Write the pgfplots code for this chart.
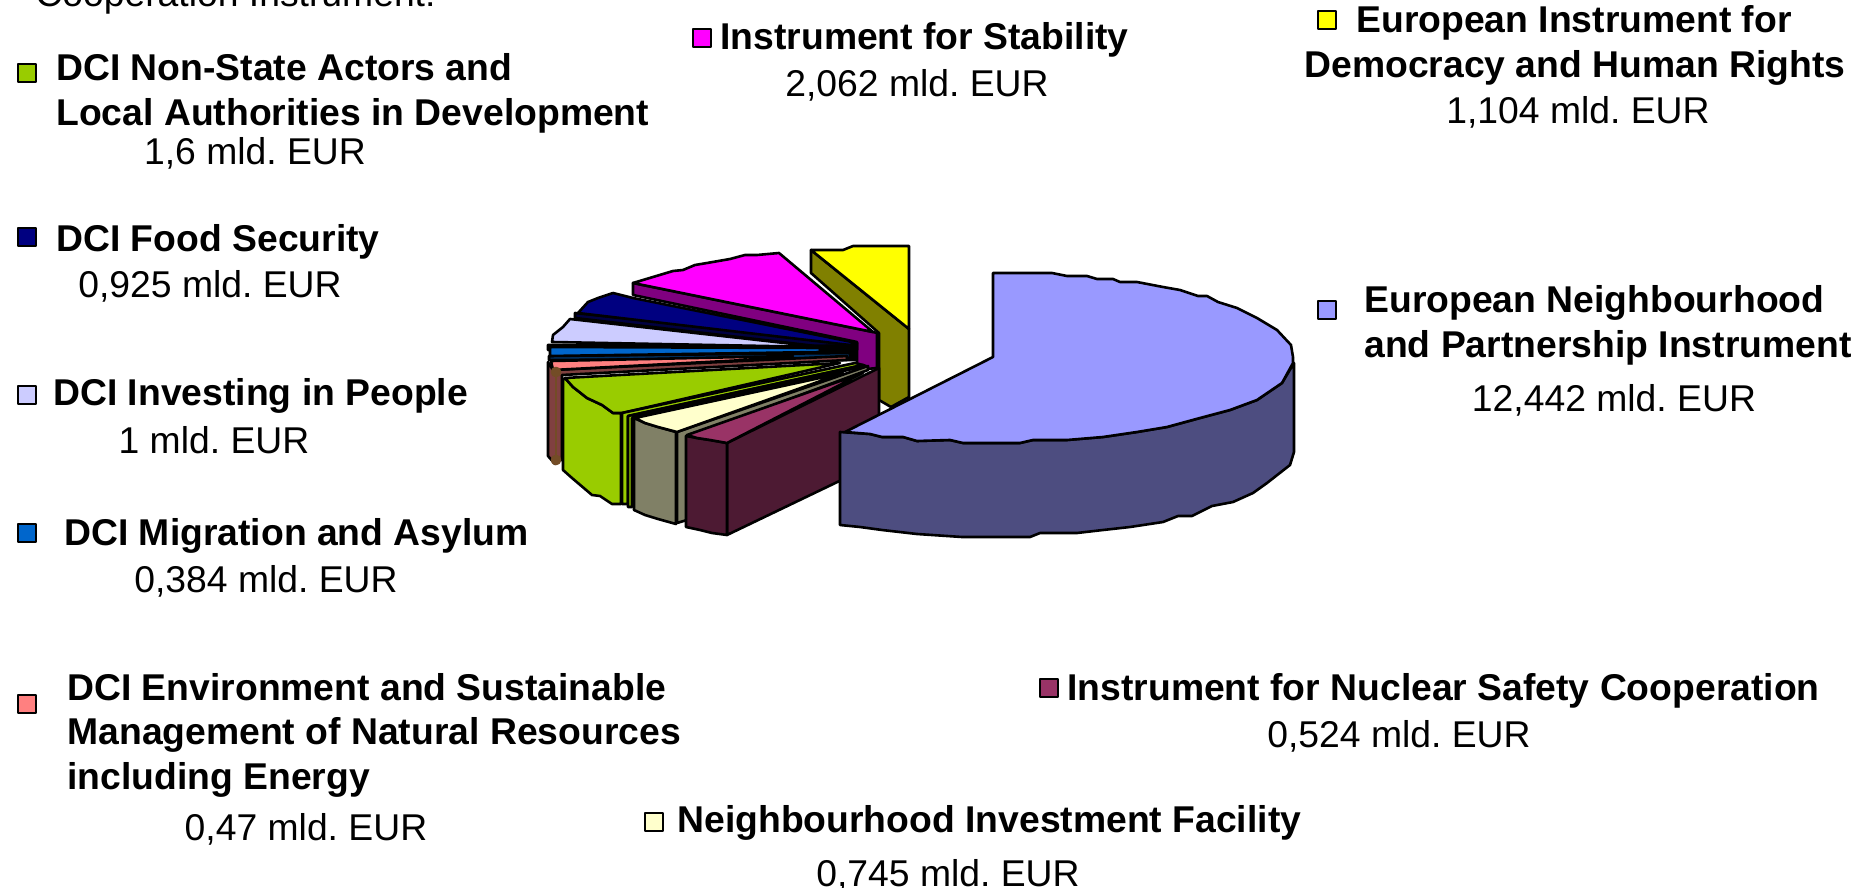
\documentclass[border=0pt]{standalone}
\usepackage{fontspec}
\setmainfont{Liberation Sans}
\usepackage{pgfplots}
\pgfplotsset{compat=1.18}
\definecolor{cEN}{HTML}{9999FF}\definecolor{cENd}{HTML}{4D4D80}
\definecolor{cYe}{HTML}{FFFF00}\definecolor{cYed}{HTML}{808000}
\definecolor{cMa}{HTML}{FF00FF}\definecolor{cMad}{HTML}{800080}
\definecolor{cNa}{HTML}{000080}\definecolor{cNad}{HTML}{000040}
\definecolor{cLa}{HTML}{CCCCFF}\definecolor{cLad}{HTML}{666680}
\definecolor{cBl}{HTML}{0066CC}\definecolor{cBld}{HTML}{003366}
\definecolor{cSa}{HTML}{FF8080}\definecolor{cSad}{HTML}{804040}
\definecolor{cGr}{HTML}{99CC00}
\definecolor{cCr}{HTML}{FFFFCC}\definecolor{cCrd}{HTML}{808066}
\definecolor{cRe}{HTML}{993366}\definecolor{cRed}{HTML}{4D1A33}
\frenchspacing
\newcommand{\B}[3]{\node[anchor=base west,inner sep=0pt,font=\fontsize{18.65}{22}\selectfont\bfseries] at (axis cs:#1,#2) {#3};}
\newcommand{\V}[3]{\node[anchor=base,inner sep=0pt,font=\fontsize{18.65}{22}\selectfont] at (axis cs:#1,#2) {#3};}
\newcommand{\K}[3]{\addplot[only marks,mark=square*,mark size=4.5pt,mark options={fill=#3,draw=black,line width=0.9pt}] coordinates {(#1,#2)};}
\begin{document}
\begin{tikzpicture}
\useasboundingbox (0,0) rectangle (935pt,444pt);
\clip (0,0) rectangle (935pt,444pt);
\begin{axis}[at={(0,0)},anchor=south west,scale only axis,width=935pt,height=444pt,
  xmin=0,xmax=1870,ymin=0,ymax=888,y dir=reverse,axis lines=none,clip=false,
  every axis plot/.append style={draw=black,line width=1.3pt,line join=round,mark=none}]
% yellow
\addplot[fill=cYed] coordinates {(811,250)(909,329)(909,397)(891,407)(879,400)(879,333)(811,273)} -- cycle;
\addplot[fill=cYe] coordinates {(811,250)(843,250)(853,246)(909,246)(909,329)} -- cycle;
% magenta
\addplot[fill=cMad] coordinates {(633,283)(873,332)(877,333)(877,368)(857,370)(857,342)(633,295)} -- cycle;
\addplot[fill=cMa] coordinates {(633,283)(653,277)(673,271)(683,270)(695,265)(707,263)(730,259)(745,255)(757,255)(779,253)(873,332)} -- cycle;
% navy
\addplot[fill=cNad] coordinates {(575,313)(575,318)(850,350)(857,350)(857,343)} -- cycle;
\addplot[fill=cNa] coordinates {(578,313)(588,302)(598,298)(613,293)(633,298)(857,343)(850,345)} -- cycle;
% lavender
\addplot[fill=cLad] coordinates {(548,345)(548,350)(850,356)(850,346)} -- cycle;
\addplot[fill=cLa] coordinates {(552,342)(553,335)(563,327)(570,319)(820,347)} -- cycle;
% centre
\addplot[fill=black] coordinates {(780,347)(856,345)(856,360)(780,360)} -- cycle;
% blue
\addplot[fill=cBld] coordinates {(549,356)(549,360)(850,358)(850,353)} -- cycle;
\addplot[fill=cBl] coordinates {(550,347)(550,356)(820,352)(820,348)} -- cycle;
% salmon
\addplot[fill=cSad] coordinates {(548,362)(548,456)(555,464)(556,460)(562,460)(562,375)(847,360)(847,356)(553,370)} -- cycle;
\addplot coordinates {(556,372)(556,460)};
\addplot[fill=cSa] coordinates {(551,361)(553,370)(783,358)(793,356)} -- cycle;
% green
\addplot[fill=cGr] coordinates {(563,380)(563,470)(572,478)(592,495)(600,496)(612,504)(621,504)(621,413)(613,413)(602,405)(587,398)(573,387)(565,378)} -- cycle;
\addplot[fill=cGr] coordinates {(565,378)(573,387)(587,398)(602,405)(613,413)(622,413)(840,363)} -- cycle;
\addplot[fill=cGr] coordinates {(622,413)(855,363)(863,365)(628,416)(628,504)(622,504)} -- cycle;
\addplot[fill=cGr] coordinates {(628,416)(863,365)(866,366)(632,418)(632,507)(628,507)} -- cycle;
% cream
\addplot[fill=cCrd] coordinates {(677,432)(868,366)(868,370)(687,437)(687,520)(677,523)} -- cycle;
\addplot[fill=cCrd] coordinates {(634,418)(634,510)(645,515)(658,519)(676,524)(676,432)(658,427)(645,423)} -- cycle;
\addplot[fill=cCr] coordinates {(635,418)(645,423)(658,427)(677,432)(843,373)} -- cycle;
% maroon
\addplot[fill=cRed] coordinates {(727,443)(879,368)(879,462)(727,535)} -- cycle;
\addplot[fill=cRed] coordinates {(686,436)(686,527)(700,530)(712,533)(727,535)(727,443)(710,440)(697,438)} -- cycle;
\addplot[fill=cRe] coordinates {(687,435)(697,438)(710,440)(727,443)(863,373)} -- cycle;
% ENPI
\addplot[fill=cENd] coordinates {(840,432)(840,525)(860,527)(882,530)(917,534)(962,537)(1030,537)(1040,533)(1077,533)(1103,530)(1130,527)(1163,522)(1178,516)(1192,516)(1212,506)(1233,502)(1253,493)(1267,483)(1290,465)(1294,452)(1294,363)(1282,383)(1257,400)(1230,410)(1200,418)(1167,427)(1137,432)(1103,437)(1067,440)(1033,440)(1020,443)(963,443)(950,440)(917,441)(903,437)(882,437)(870,434)} -- cycle;
\addplot[fill=cEN] coordinates {(993,273)(1052,273)(1067,276)(1087,276)(1097,279)(1113,279)(1120,282)(1137,282)(1163,287)(1180,290)(1198,296)(1207,296)(1218,302)(1237,308)(1257,318)(1277,330)(1291,345)(1293,357)(1293,363)(1282,383)(1257,400)(1230,410)(1200,418)(1167,427)(1137,432)(1103,437)(1067,440)(1033,440)(1020,443)(963,443)(950,440)(917,441)(903,437)(882,437)(870,434)(845,432)(993,357)} -- cycle;
% keys
\K{702}{38}{cMa}\K{1327}{20}{cYe}\K{1327}{310}{cEN}\K{27}{73}{cGr}\K{27}{237}{cNa}
\K{27}{395}{cLa}\K{27}{533}{cBl}\K{27}{704}{cSa}\K{1049}{688}{cRe}\K{654}{822}{cCr}
% text
\node[anchor=base west,inner sep=0pt,font=\fontsize{18.65}{22}\selectfont] at (axis cs:35,7) {Cooperation Instrument:};
\B{720}{50}{Instrument for Stability}
\V{917}{97}{2,062 mld. EUR}
\B{1356}{33}{European Instrument for}
\B{1304}{78}{Democracy and Human Rights}
\V{1578}{124}{1,104 mld. EUR}
\B{1364}{312}{European Neighbourhood}
\B{1364}{357}{and Partnership Instrument}
\V{1614}{411}{12,442 mld. EUR}
\B{56}{81}{DCI Non-State Actors and}
\B{56}{126}{Local Authorities in Development}
\V{255}{165}{1,6 mld. EUR}
\B{56}{251}{DCI Food Security}
\V{210}{297}{0,925 mld. EUR}
\B{53}{405}{DCI Investing in People}
\V{214}{453}{1 mld. EUR}
\B{64}{545}{DCI Migration and Asylum}
\V{266}{592}{0,384 mld. EUR}
\B{67}{700}{DCI Environment and Sustainable}
\B{67}{744}{Management of Natural Resources}
\B{67}{789}{including Energy}
\V{306}{840}{0,47 mld. EUR}
\B{1067}{700}{Instrument for Nuclear Safety Cooperation}
\V{1399}{747}{0,524 mld. EUR}
\B{677}{832}{Neighbourhood Investment Facility}
\V{948}{886}{0,745 mld. EUR}
\end{axis}
\end{tikzpicture}
\end{document}
